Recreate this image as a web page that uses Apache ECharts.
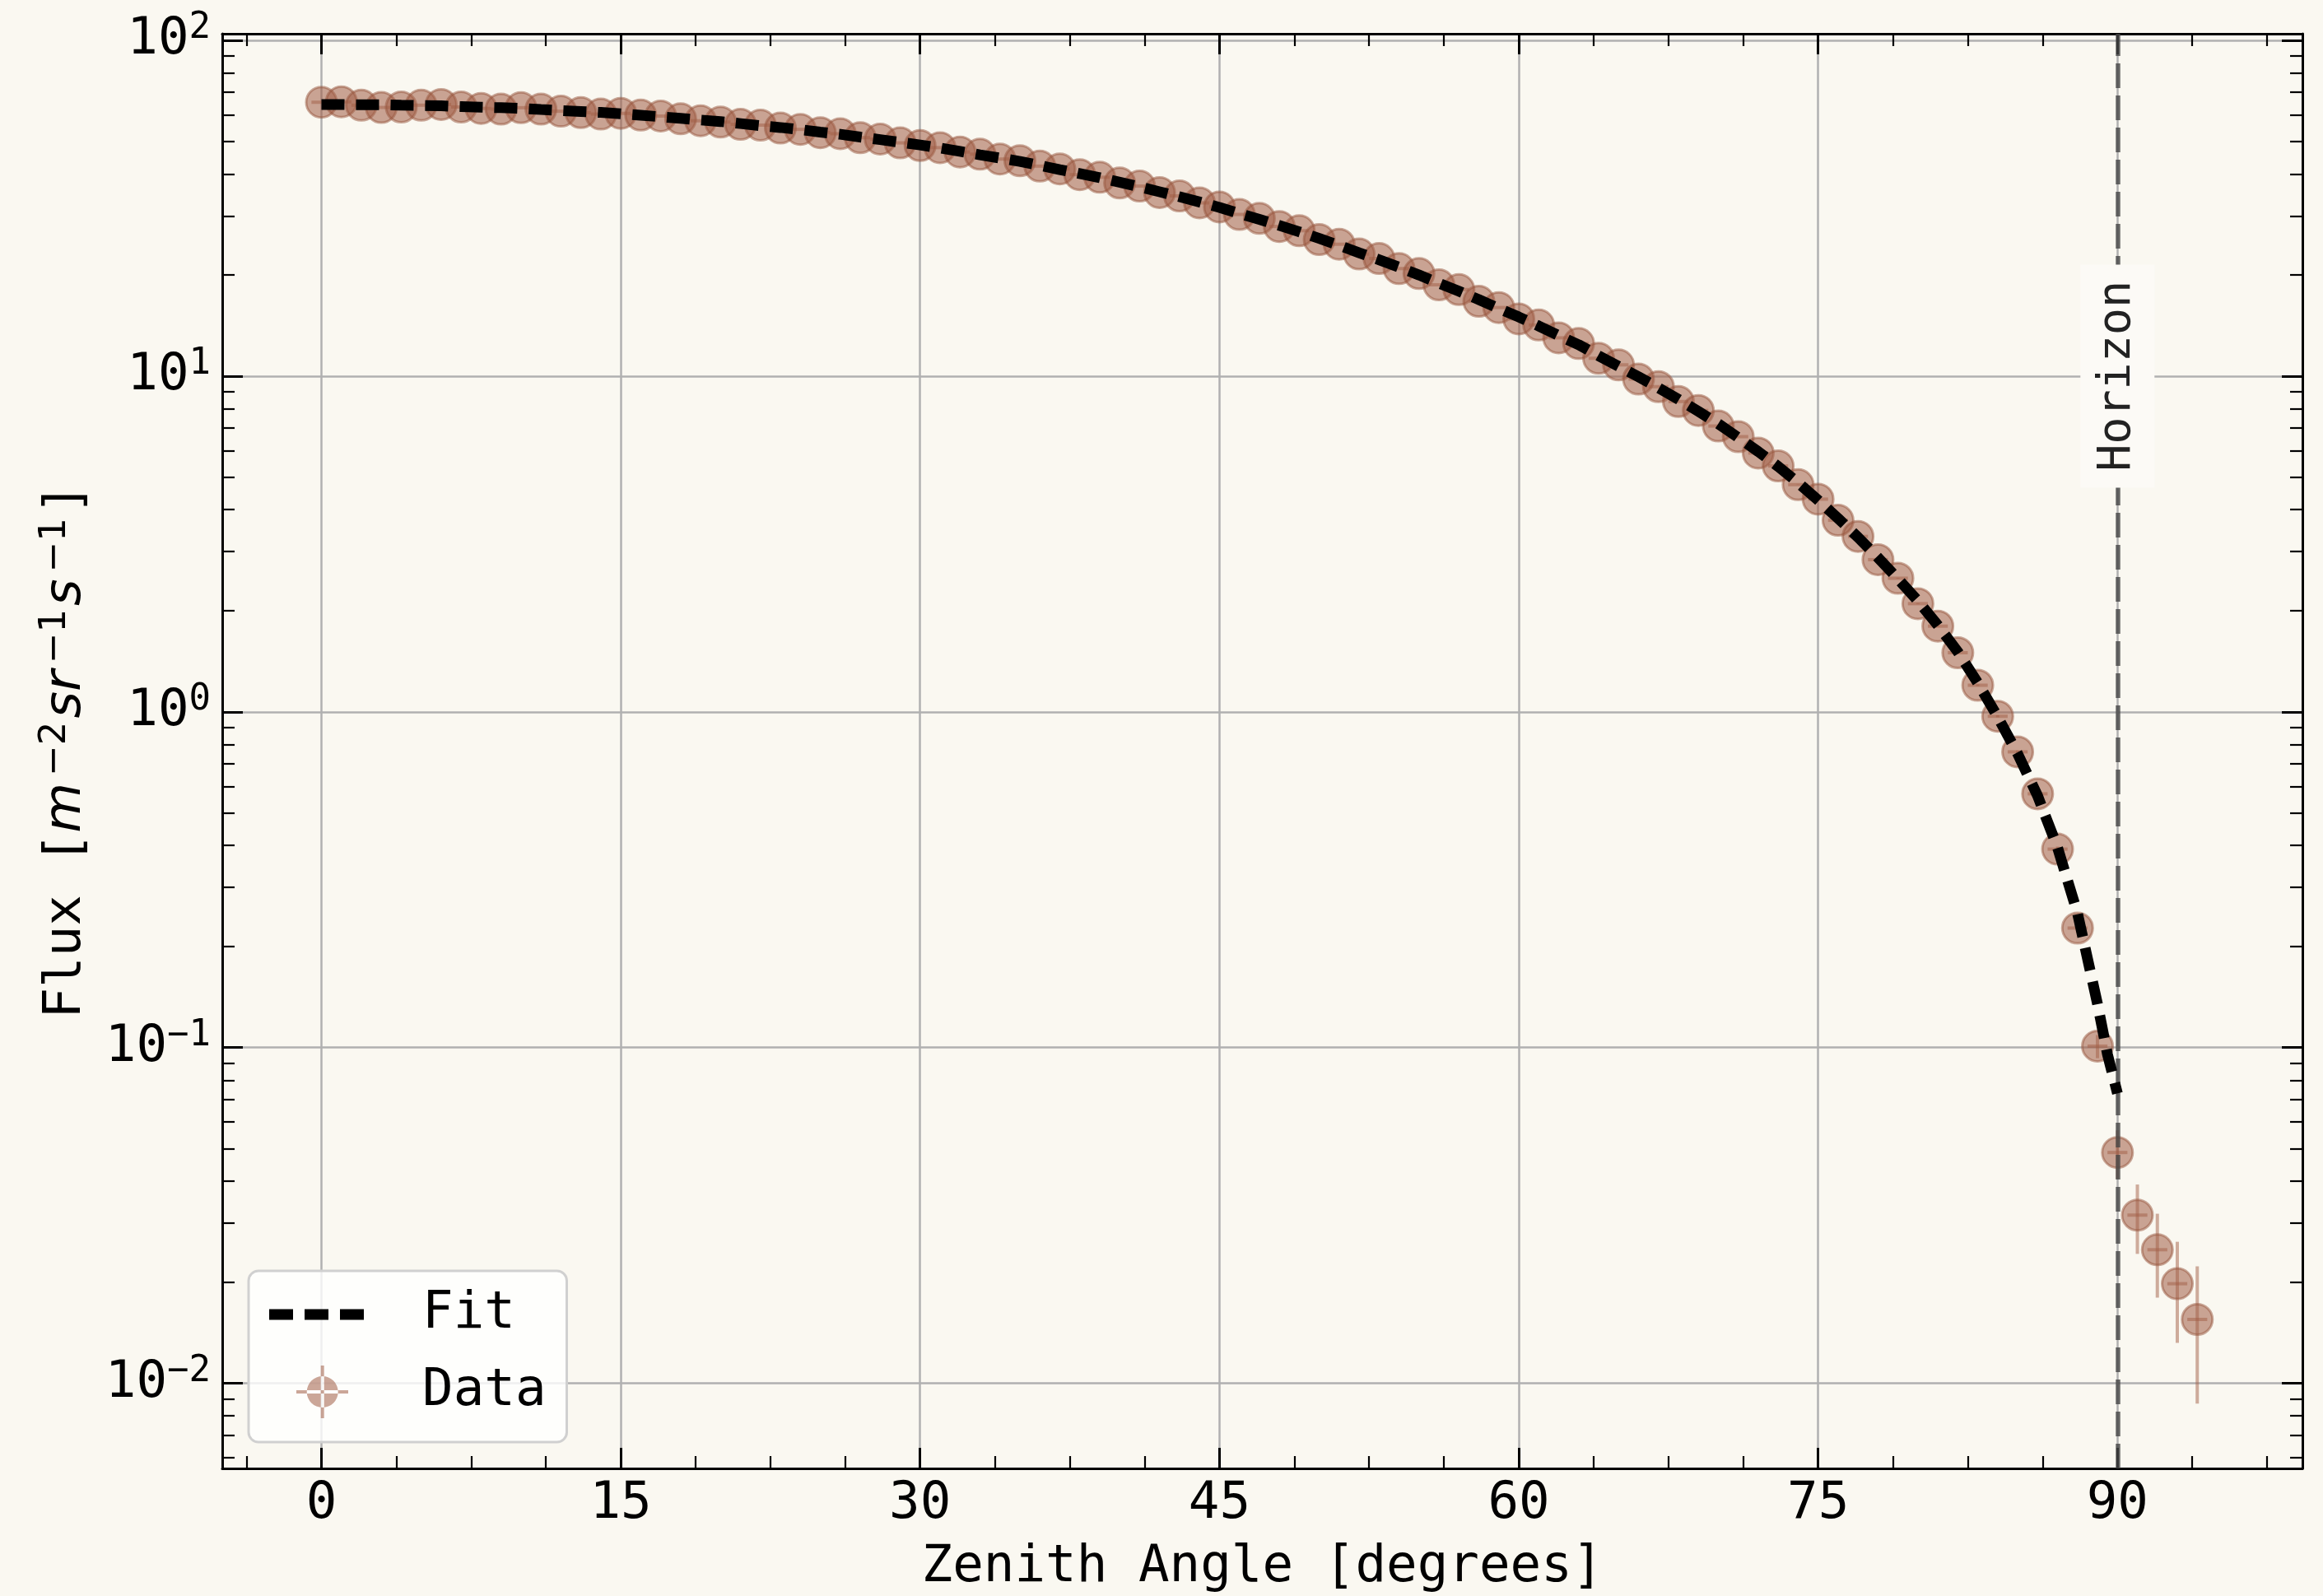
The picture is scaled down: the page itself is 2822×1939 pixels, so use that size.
<!DOCTYPE html>
<html>
<head>
<meta charset="utf-8">
<script src="https://cdn.jsdelivr.net/npm/echarts@6/dist/echarts.min.js"></script>
<style>
html,body{margin:0;padding:0;background:#faf8f1;}
#chart{width:2822px;height:1939px;}
</style>
</head>
<body>
<div id="chart"></div>
<script>
// ---------------- data ----------------
const angleDeg = [0,1,2,3,4,5,6,7,8,9,10,11,12,13,14,15,16,17,18,19,20,21,22,23,24,25,26,27,28,29,30,31,32,33,34,35,36,37,38,39,40,41,42,43,44,45,46,47,48,49,50,51,52,53,54,55,56,57,58,59,60,61,62,63,64,65,66,67,68,69,70,71,72,73,74,75,76,77,78,79,80,81,82,83,84,85,86,87,88,89,90,91,92,93,94];
const fluxData = [65.4,65.6,64.1,63.1,63.3,64.1,64.4,63.3,62.7,62.4,63.0,62.4,61.5,60.9,60.3,60.6,59.9,59.5,58.4,57.6,57.1,56.2,55.9,54.8,54.3,53.1,52.7,51.3,50.8,49.5,48.6,47.9,46.5,45.8,44.3,43.8,42.2,41.4,39.8,39.1,37.6,36.8,35.2,34.4,32.8,31.9,30.3,29.5,27.9,27.1,25.5,24.7,23.1,22.4,20.9,20.2,18.7,18.1,16.7,16.0,14.8,14.2,13.0,12.5,11.3,10.8,9.8,9.3,8.4,7.9,7.1,6.6,5.9,5.4,4.75,4.3,3.72,3.33,2.84,2.5,2.1,1.8,1.5,1.2,0.97,0.76,0.57,0.39,0.227,0.101,0.0487,0.0317,0.025,0.0198,0.0155];
const fluxErr = [0.007,0.007,0.007,0.007,0.007,0.007,0.007,0.007,0.007,0.007,0.007,0.007,0.007,0.007,0.007,0.007,0.007,0.007,0.007,0.007,0.007,0.007,0.007,0.007,0.007,0.007,0.007,0.007,0.007,0.007,0.007,0.007,0.007,0.007,0.007,0.007,0.007,0.007,0.007,0.007,0.007,0.007,0.007,0.007,0.007,0.007,0.007,0.007,0.007,0.007,0.007,0.007,0.007,0.007,0.007,0.007,0.007,0.007,0.007,0.007,0.007,0.007,0.007,0.007,0.007,0.007,0.007,0.007,0.007,0.007,0.007,0.007,0.007,0.007,0.007,0.007,0.007,0.007,0.007,0.007,0.007,0.007,0.007,0.007,0.007,0.007,0.007,0.007,0.007,0.008,0.008,0.0074,0.007,0.0066,0.0068];
const angleErr = 0.5;

const fitAngle = [0,1,2,3,4,5,6,7,8,9,10,11,12,13,14,15,16,17,18,19,20,21,22,23,24,25,26,27,28,29,30,31,32,33,34,35,36,37,38,39,40,41,42,43,44,45,46,47,48,49,50,51,52,53,54,55,56,57,58,59,60,61,62,63,64,65,66,67,68,69,70,71,72,73,74,75,76,77,78,79,80,81,82,83,84,85,86,87,88,89,89.5,90];
const fitFlux = [64.4,64.4,64.3,64.3,64.1,64.0,63.8,63.5,63.2,63.0,62.7,62.2,61.8,61.4,61.0,60.4,59.8,59.2,58.6,57.9,57.3,56.5,55.7,55.0,54.2,53.3,52.5,51.5,50.6,49.7,48.8,47.8,46.7,45.6,44.6,43.6,42.4,41.2,40.1,39.0,37.8,36.6,35.4,34.2,33.0,31.8,30.5,29.3,28.1,26.9,25.7,24.5,23.3,22.2,21.1,20.0,18.9,17.9,16.9,15.9,15.0,14.1,13.2,12.4,11.5,10.7,9.95,9.23,8.53,7.85,7.21,6.56,5.96,5.38,4.81,4.27,3.77,3.31,2.88,2.49,2.14,1.81,1.51,1.22,0.966,0.750,0.562,0.394,0.251,0.135,0.0955,0.0730];

const horizonAngle = 90;
const horizonLabelFlux = 10;
const horizonLabel = 'Horizon';

const xMajorTicks = [0,15,30,45,60,75,90];
const xMinorTicks = [-3.75,3.75,7.5,11.25,18.75,22.5,26.25,33.75,37.5,41.25,48.75,52.5,56.25,63.75,67.5,71.25,78.75,82.5,86.25,93.75,97.5];
const yMajorExponents = [-2,-1,0,1,2];

const xTitle = 'Zenith Angle [degrees]';
const yTitle = '{a|Flux [}{i|m}{s|\u22122}{i|sr}{s|\u22121}{i|s}{s|\u22121}{a|]}';

// ---------------- view settings ----------------
const X_MIN = -4.97, X_MAX = 99.27;
const Y_MIN = -2.2534, Y_MAX = 2.0196;   // log10 of flux
const MONO = 'DejaVu Sans Mono';
const SANS = 'DejaVu Sans';
const FS = 62.5;
const MARK = 'rgba(161,93,70,0.55)';
const MARK_EDGE = 'rgba(150,84,60,0.5)';
const ERR = 'rgba(161,93,70,0.5)';

const yMinorTicks = [];
for (let d = -3; d <= 2; d++) {
  for (let k = 2; k <= 9; k++) {
    const t = d + Math.log10(k);
    if (t > Y_MIN && t < Y_MAX) yMinorTicks.push(t);
  }
}

const lg = Math.log10;
const scatterData = angleDeg.map((a, i) => [a, lg(fluxData[i])]);
const errData = angleDeg.map((a, i) => [a, lg(fluxData[i]), fluxData[i], fluxErr[i], angleErr]);
const fitData = fitAngle.map((a, i) => [a, lg(fitFlux[i])]);

const supRich = {
  b: {fontFamily: MONO, fontSize: FS, lineHeight: 72, color: '#000'},
  s: {fontFamily: MONO, fontSize: 44, lineHeight: 46, verticalAlign: 'top', color: '#000'}
};

function fmtExp(v) {
  const e = Math.round(v);
  const s = e < 0 ? '\u2212' + (-e) : String(e);
  return '{b|10}{s|' + s + '}';
}

function xAxisBase(pos, major, withLine) {
  return {
    type: 'value', position: pos, min: X_MIN, max: X_MAX,
    axisLine: {show: withLine, onZero: false, lineStyle: {color: '#000', width: 3}},
    axisTick: {show: true, inside: true, length: major ? 25 : 15,
      lineStyle: {color: '#000', width: major ? 3 : 2.2},
      customValues: major ? xMajorTicks : xMinorTicks},
    axisLabel: {show: false},
    splitLine: {show: false},
    minorTick: {show: false}
  };
}
function yAxisBase(pos, major, withLine) {
  return {
    type: 'value', position: pos, min: Y_MIN, max: Y_MAX,
    axisLine: {show: withLine, onZero: false, lineStyle: {color: '#000', width: 3}},
    axisTick: {show: true, inside: true, length: major ? 25 : 15,
      lineStyle: {color: '#000', width: major ? 3 : 2.2},
      customValues: major ? yMajorExponents : yMinorTicks},
    axisLabel: {show: false},
    splitLine: {show: false},
    minorTick: {show: false}
  };
}

const xMain = xAxisBase('bottom', true, true);
xMain.axisLabel = {show: true, customValues: xMajorTicks, margin: 8, color: '#000',
  fontFamily: MONO, fontSize: FS, lineHeight: 72, formatter: v => String(Math.round(v))};
xMain.splitLine = {show: true, lineStyle: {color: '#b0b0b0', width: 2.5}};
xMain.name = xTitle;
xMain.nameLocation = 'middle';
xMain.nameGap = 84;
xMain.nameTextStyle = {fontFamily: MONO, fontSize: FS, lineHeight: 72, color: '#000'};

const yMain = yAxisBase('left', true, true);
yMain.axisLabel = {show: true, customValues: yMajorExponents, margin: 14,
  formatter: fmtExp, rich: supRich, color: '#000', fontFamily: MONO, fontSize: FS, lineHeight: 72};
yMain.splitLine = {show: true, lineStyle: {color: '#b0b0b0', width: 2.5}};
yMain.name = yTitle;
yMain.nameLocation = 'middle';
yMain.nameRotate = 90;
yMain.nameGap = 152;
yMain.nameTextStyle = {fontFamily: MONO, fontSize: FS, lineHeight: 72, color: '#000',
  rich: {
    a: {fontFamily: MONO, fontSize: FS, lineHeight: 72, color: '#000'},
    i: {fontFamily: SANS, fontStyle: 'italic', fontSize: FS, lineHeight: 72, color: '#000', padding: [0, 4, 0, 0]},
    s: {fontFamily: SANS, fontSize: 45, lineHeight: 46, verticalAlign: 'top', color: '#000', padding: [0, 4, 0, 4]}
  }};

const FIT_ICON = 'path://M0 0 Z M181 64 Z M0 25.5 L29 25.5 L29 38.5 L0 38.5 Z M43 25.5 L72 25.5 L72 38.5 L43 38.5 Z M86 25.5 L115 25.5 L115 38.5 L86 38.5 Z';
const DATA_ICON = 'path://M0 0 Z M181 64 Z M45.7 32 A19 19 0 1 0 83.7 32 A19 19 0 1 0 45.7 32 Z M33 30 L96 30 L96 34 L33 34 Z M62.7 0 L66.7 0 L66.7 64 L62.7 64 Z';

const chart = echarts.init(document.getElementById('chart'), null, {renderer: 'canvas'});
chart.setOption({
  animation: false,
  backgroundColor: '#faf8f1',
  textStyle: {fontFamily: MONO},
  grid: {left: 270, right: 25, top: 41, bottom: 155, containLabel: false, outerBoundsMode: 'none'},
  xAxis: [xMain, xAxisBase('bottom', false, false), xAxisBase('top', true, true), xAxisBase('top', false, false)],
  yAxis: [yMain, yAxisBase('left', false, false), yAxisBase('right', true, true), yAxisBase('right', false, false)],
  legend: {
    orient: 'vertical', left: 302, top: 1544, padding: [21, 25, 29, 25], itemGap: 30,
    itemWidth: 181, itemHeight: 64, selectedMode: false,
    backgroundColor: 'rgba(255,255,255,0.8)', borderColor: '#d0d0d0', borderWidth: 3, borderRadius: 12,
    textStyle: {fontFamily: MONO, fontSize: FS, color: '#000', padding: [12, 0, 0, 0]},
    data: [
      {name: 'Fit', icon: FIT_ICON, itemStyle: {color: '#000', borderWidth: 0}},
      {name: 'Data', icon: DATA_ICON, itemStyle: {color: MARK, borderWidth: 0}}
    ]
  },
  series: [
    {
      type: 'custom', name: 'Data errors', xAxisIndex: 0, yAxisIndex: 0, z: 2, silent: true,
      encode: {x: 0, y: 1},
      data: errData,
      renderItem: function (params, api) {
        const x = api.value(0), v = api.value(2), e = api.value(3), xe = api.value(4);
        const pT = api.coord([x, Math.log10(v + e)]);
        const pB = api.coord([x, Math.log10(v - e)]);
        const pL = api.coord([x - xe, Math.log10(v)]);
        const pR = api.coord([x + xe, Math.log10(v)]);
        return {type: 'group', children: [
          {type: 'line', shape: {x1: pT[0], y1: pT[1], x2: pB[0], y2: pB[1]}, style: {stroke: ERR, lineWidth: 4}},
          {type: 'line', shape: {x1: pL[0], y1: pL[1], x2: pR[0], y2: pR[1]}, style: {stroke: ERR, lineWidth: 4}}
        ]};
      }
    },
    {
      type: 'scatter', name: 'Data', xAxisIndex: 0, yAxisIndex: 0, z: 3, silent: true,
      symbol: 'circle', symbolSize: 37,
      itemStyle: {color: MARK, borderColor: MARK_EDGE, borderWidth: 3, opacity: 1},
      data: scatterData
    },
    {
      type: 'line', name: 'Horizon', xAxisIndex: 0, yAxisIndex: 0, z: 4, silent: true,
      data: [],
      markLine: {
        silent: true, z: 4, symbol: ['none', 'none'], label: {show: false},
        lineStyle: {color: 'rgba(70,70,70,0.8)', width: 5.5, type: [30, 9]},
        data: [{xAxis: horizonAngle}]
      },
      markPoint: {
        silent: true, z: 10, symbol: 'rect', symbolSize: [90, 271],
        itemStyle: {color: '#fcfaf6'},
        label: {show: true, position: 'inside', rotate: 90, formatter: horizonLabel,
          fontFamily: MONO, fontSize: 55, color: '#222'},
        data: [{coord: [horizonAngle, Math.log10(horizonLabelFlux)]}]
      }
    },
    {
      type: 'line', name: 'Fit', xAxisIndex: 0, yAxisIndex: 0, z: 6, silent: true,
      data: fitData, showSymbol: false, symbol: 'none',
      itemStyle: {color: '#000'},
      lineStyle: {color: '#000', width: 13, type: [28, 14], cap: 'butt'}
    }
  ]
});
</script>
</body>
</html>
